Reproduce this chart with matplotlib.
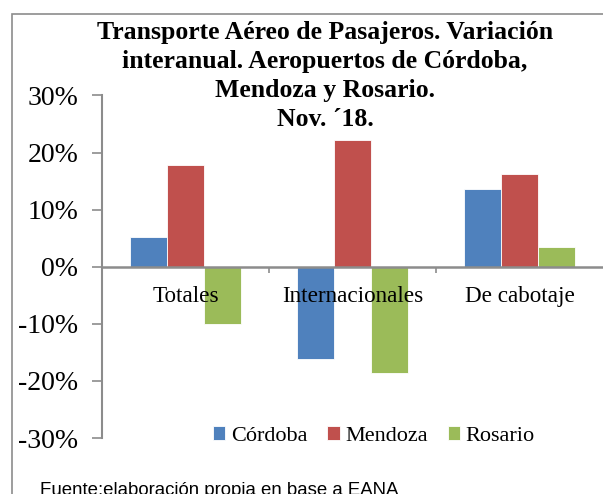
import matplotlib
matplotlib.use("Agg")
import matplotlib.pyplot as plt
import numpy as np
from matplotlib.patches import Rectangle

categories = ["Totales", "Internacionales", "De cabotaje"]
series_names = ["Córdoba", "Mendoza", "Rosario"]
cordoba = [5.2, -16.1, 13.7]
mendoza = [17.8, 22.2, 16.3]
rosario = [-10.1, -18.6, 3.5]
yticks = [-30, -20, -10, 0, 10, 20, 30]
ytick_labels = ["-30%", "-20%", "-10%", "0%", "10%", "20%", "30%"]
title = "Transporte Aéreo de Pasajeros. Variación\ninteranual. Aeropuertos de Córdoba,\nMendoza y Rosario.\nNov. ´18."
source = "Fuente:elaboración propia en base a EANA"

colors = ["#4F81BD", "#C0504D", "#9BBB59"]
W, H = 603, 494
fig = plt.figure(figsize=(W / 100, H / 100), dpi=100)
serif = ["Liberation Serif", "DejaVu Serif"]

# outer chart frame
fig.patches.append(Rectangle((12 / W, -0.1), 1.2, 1 - 14 / H + 0.1, transform=fig.transFigure,
                             fill=False, edgecolor="#8c8c8c", linewidth=1.2))

ax = fig.add_axes([102 / W, (H - 438) / H, 501 / W, (438 - 95.5) / H])
ax.set_facecolor("none")
x = np.arange(len(categories))
bw = 1 / 4.5
for i, (vals, name) in enumerate(zip([cordoba, mendoza, rosario], series_names)):
    ax.bar(x + (i - 1) * bw, vals, width=bw, color=colors[i], label=name,
           edgecolor="white", linewidth=0.6, zorder=2)

ax.set_xlim(-0.5, 2.5)
ax.set_ylim(-30, 30)
ax.set_yticks(yticks)
ax.set_yticklabels(ytick_labels, fontfamily=serif, fontsize=20)
ax.tick_params(axis="y", direction="out", length=7, width=1.2, color="#8c8c8c", pad=10)
ax.set_xticks([])
for s in ["top", "right", "bottom"]:
    ax.spines[s].set_visible(False)
ax.spines["left"].set_color("#8c8c8c")
ax.spines["left"].set_linewidth(1.5)
ax.axhline(0, color="#8c8c8c", linewidth=1.8, zorder=3)
ax.vlines([0.5, 1.5], -1.1, 0, color="#8c8c8c", linewidth=1.2, zorder=3)

for i, c in enumerate(categories):
    ax.text(i, -3.3, c, ha="center", va="top", fontfamily=serif, fontsize=16.7, zorder=4)

fig.text(325 / W, 1 - 21 / H, title, ha="center", va="top", fontfamily=serif,
         fontweight="bold", fontsize=18.5, linespacing=1.33)

# legend
leg = ax.legend(loc="center", bbox_to_anchor=(374 / W, 1 - 436 / H), bbox_transform=fig.transFigure,
                ncol=3, frameon=False, prop={"family": serif, "size": 16},
                handlelength=0.55, handleheight=0.55, handletextpad=0.25, columnspacing=0.9)

fig.text(40 / W, 1 - 490 / H, source, ha="left", va="center", fontfamily=["Liberation Sans", "DejaVu Sans"],
         fontsize=13.4)

fig.savefig("out.png", dpi=100)
